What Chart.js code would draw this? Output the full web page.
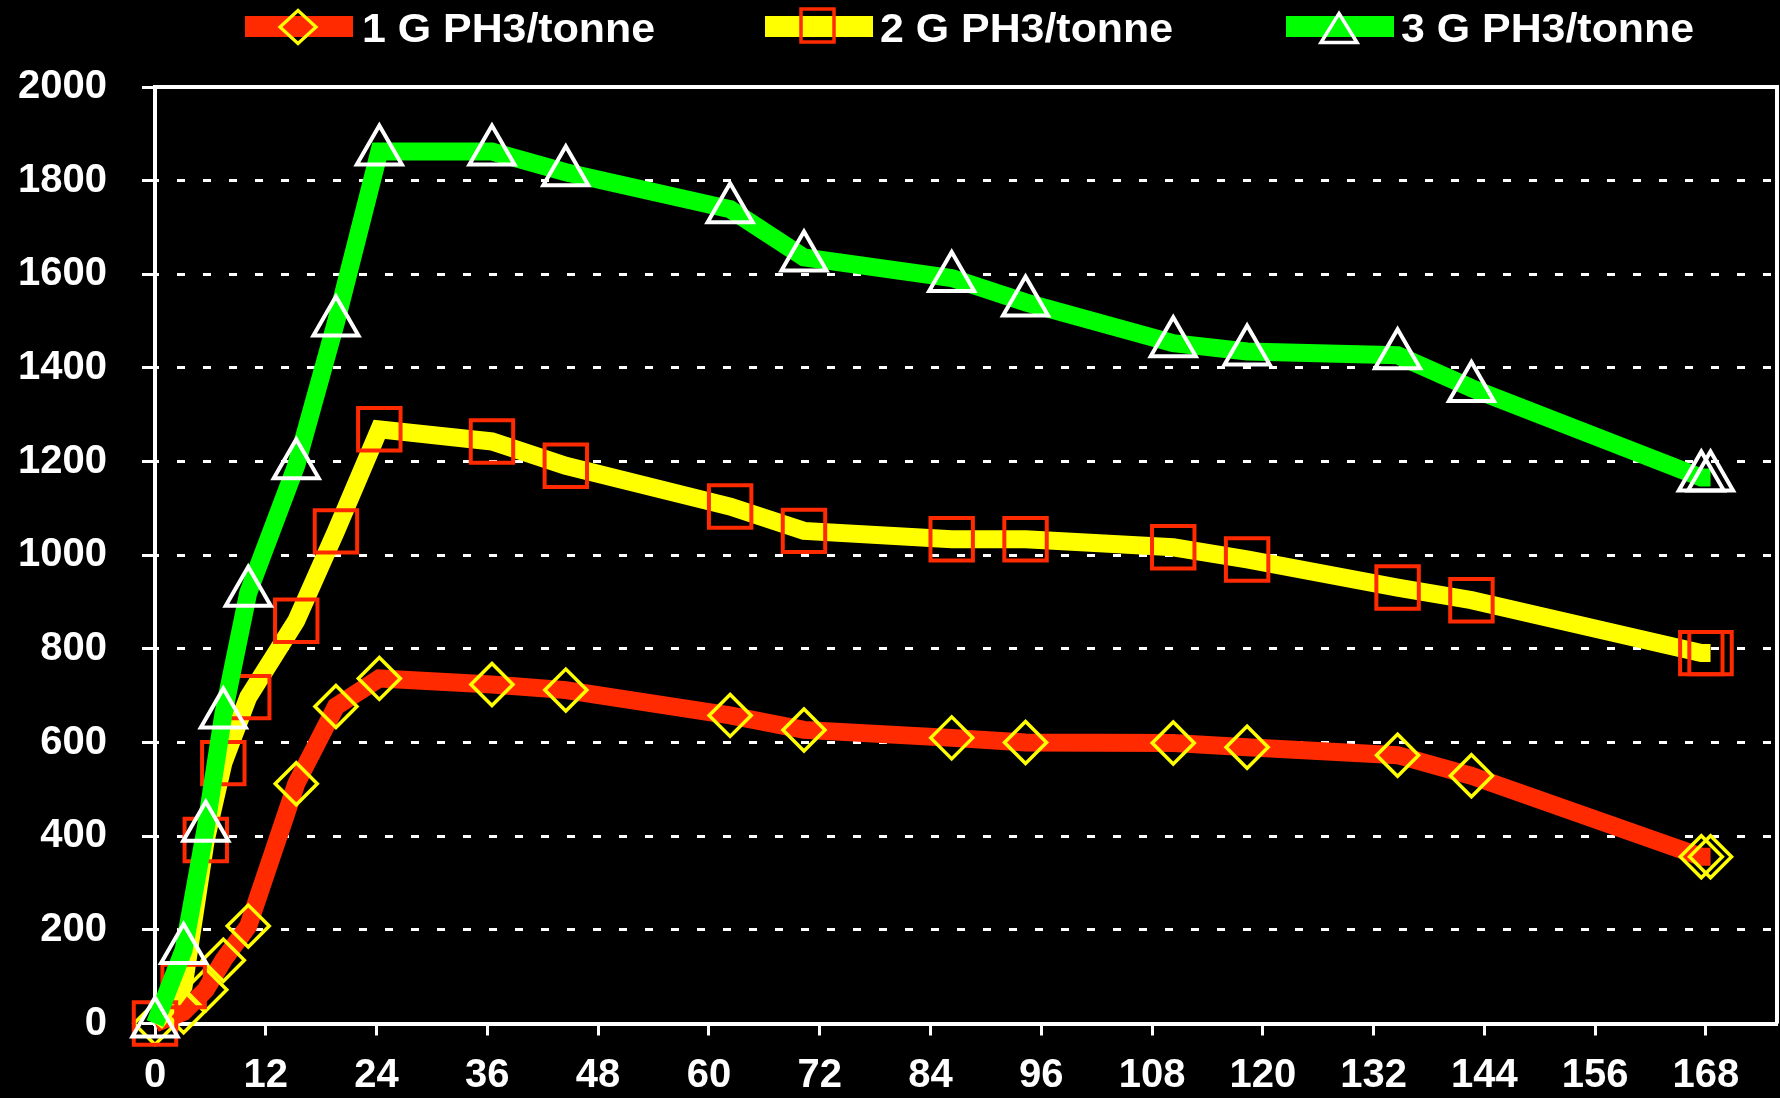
<!DOCTYPE html>
<html><head><meta charset="utf-8">
<script src="https://cdn.jsdelivr.net/npm/chart.js@4.4.1/dist/chart.umd.min.js"></script>
<style>
html,body{margin:0;padding:0;background:#000;}
#wrap{position:relative;width:1780px;height:1098px;background:#000;overflow:hidden;}
#c{position:absolute;left:0;top:0;}
#legsvg{position:absolute;left:0;top:0;}
.lt{position:absolute;top:7.5px;font-family:"Liberation Sans",Arial,sans-serif;font-weight:bold;font-size:40px;line-height:40px;color:#fff;white-space:nowrap;transform:scaleX(1.072);transform-origin:0 0;}
</style></head>
<body>
<div id="wrap">
<canvas id="c" width="1780" height="1098"></canvas>
<svg id="legsvg" width="1780" height="60" xmlns="http://www.w3.org/2000/svg"></svg>
<div id="legtext"></div>
</div>
<script>
// ---- data ----
const hours = [0, 3.1, 5.5, 7.4, 10.1, 15.3, 19.6, 24.3, 36.5, 44.5, 62.3, 70.3, 86.3, 94.3, 110.3, 118.3, 134.6, 142.6, 167.5, 168.5];
const series1G = [0, 25, 72, 135, 208, 512, 677, 737, 724, 712, 658, 627, 610, 600, 599, 590, 573, 529, 356, 356];
const series2G = [0, 80, 392, 556, 697, 860, 1051, 1269, 1243, 1191, 1104, 1052, 1034, 1034, 1017, 991, 931, 904, 791, 791];
const series3G = [0, 157, 418, 660, 920, 1192, 1497, 1862, 1862, 1818, 1739, 1636, 1592, 1540, 1453, 1435, 1427, 1357, 1166, 1166];
const seriesNames = ['1 G PH3/tonne', '2 G PH3/tonne', '3 G PH3/tonne'];
const xTickLabels = [0, 12, 24, 36, 48, 60, 72, 84, 96, 108, 120, 132, 144, 156, 168];
const yTickLabels = [0, 200, 400, 600, 800, 1000, 1200, 1400, 1600, 1800, 2000];

const RED = '#ff2a00', YELLOW = '#ffff00', GREEN = '#00ff00', WHITE = '#ffffff';
const FONT = '"Liberation Sans", Arial, sans-serif';

const toPts = vals => hours.map((h, i) => ({x: h, y: vals[i]}));

// plot-area border (top & right edges)
const frame = {
  id: 'frame',
  beforeDatasetsDraw(chart) {
    const {ctx, chartArea: a} = chart;
    ctx.save();
    ctx.strokeStyle = WHITE;
    ctx.lineWidth = 4;
    ctx.beginPath();
    ctx.moveTo(a.left, a.top);
    ctx.lineTo(a.right, a.top);
    ctx.lineTo(a.right, a.bottom);
    ctx.stroke();
    ctx.restore();
  }
};

new Chart(document.getElementById('c'), {
  type: 'line',
  data: {
    datasets: [
      {label: seriesNames[0], data: toPts(series1G), borderColor: RED, borderWidth: 18, tension: 0,
       pointStyle: 'rectRot', pointRadius: 21, pointBorderColor: YELLOW, pointBorderWidth: 3.5,
       pointBackgroundColor: 'rgba(0,0,0,0)', order: 3, clip: false},
      {label: seriesNames[1], data: toPts(series2G), borderColor: YELLOW, borderWidth: 18, tension: 0,
       pointStyle: 'rect', pointRadius: 30, pointBorderColor: RED, pointBorderWidth: 4,
       pointBackgroundColor: 'rgba(0,0,0,0)', order: 2, clip: false},
      {label: seriesNames[2], data: toPts(series3G), borderColor: GREEN, borderWidth: 18, tension: 0,
       pointStyle: 'triangle', pointRadius: 26, pointBorderColor: WHITE, pointBorderWidth: 4,
       pointBackgroundColor: 'rgba(0,0,0,0)', order: 1, clip: false}
    ]
  },
  options: {
    responsive: false, animation: false, devicePixelRatio: 1, events: [],
    layout: {autoPadding: false, padding: {top: 87, right: 3, left: 0, bottom: 0}},
    plugins: {legend: {display: false}, tooltip: {enabled: false}},
    scales: {
      x: {
        type: 'linear', min: 0, max: 175.7,
        afterBuildTicks: s => { s.ticks = xTickLabels.map(v => ({value: v})); },
        afterFit: s => { s.height = 74.5; s.paddingLeft = 0; s.paddingRight = 0; },
        grid: {drawOnChartArea: false, drawTicks: true, tickLength: 12, tickColor: WHITE, tickWidth: 3, tickBorderDash: []},
        border: {display: true, color: WHITE, width: 4},
        ticks: {color: WHITE, font: {family: FONT, size: 40, weight: 'bold'}, padding: 16, maxRotation: 0, autoSkip: false,
                callback: v => String(v)}
      },
      y: {
        type: 'linear', min: 0, max: 2000,
        afterBuildTicks: s => { s.ticks = yTickLabels.map(v => ({value: v})); },
        afterFit: s => { s.width = 155; },
        grid: {color: WHITE, lineWidth: 3, drawTicks: true, tickLength: 13, tickColor: WHITE, tickWidth: 3, tickBorderDash: []},
        border: {display: true, color: WHITE, width: 4, dash: [8, 18], dashOffset: 6},
        ticks: {color: WHITE, font: {family: FONT, size: 40, weight: 'bold'}, padding: 35, autoSkip: false,
                callback: v => String(v)}
      }
    }
  },
  plugins: [frame]
});

// ---- legend (HTML text + SVG swatches) ----
const legItems = [
  {name: seriesNames[0], bar: RED, x: 245, textX: 361.7, marker: 'diamond', mcol: YELLOW},
  {name: seriesNames[1], bar: YELLOW, x: 765, textX: 880, marker: 'square', mcol: RED},
  {name: seriesNames[2], bar: GREEN, x: 1286, textX: 1401, marker: 'triangle', mcol: WHITE}
];
const svg = document.getElementById('legsvg');
const NS = 'http://www.w3.org/2000/svg';
const lt = document.getElementById('legtext');
legItems.forEach(it => {
  const r = document.createElementNS(NS, 'rect');
  r.setAttribute('x', it.x); r.setAttribute('y', 16); r.setAttribute('width', 108); r.setAttribute('height', 21);
  r.setAttribute('fill', it.bar); svg.appendChild(r);
  const cx = it.x + 53, cy = 27;
  let m;
  if (it.marker === 'diamond') {
    m = document.createElementNS(NS, 'polygon');
    m.setAttribute('points', `${cx},${cy-16.5} ${cx+18},${cy} ${cx},${cy+16.5} ${cx-18},${cy}`);
    m.setAttribute('stroke-width', 3.2);
  } else if (it.marker === 'square') {
    m = document.createElementNS(NS, 'rect');
    m.setAttribute('x', cx - 17); m.setAttribute('y', cy - 18); m.setAttribute('width', 33); m.setAttribute('height', 33);
    m.setAttribute('stroke-width', 3.5);
  } else {
    m = document.createElementNS(NS, 'polygon');
    m.setAttribute('points', `${cx},${cy-13.5} ${cx+18},${cy+15.5} ${cx-18},${cy+15.5}`);
    m.setAttribute('stroke-width', 3.5);
  }
  m.setAttribute('fill', 'none'); m.setAttribute('stroke', it.mcol);
  svg.appendChild(m);
  const d = document.createElement('div');
  d.className = 'lt'; d.style.left = it.textX + 'px'; d.textContent = it.name;
  lt.appendChild(d);
});
</script>
</body></html>
